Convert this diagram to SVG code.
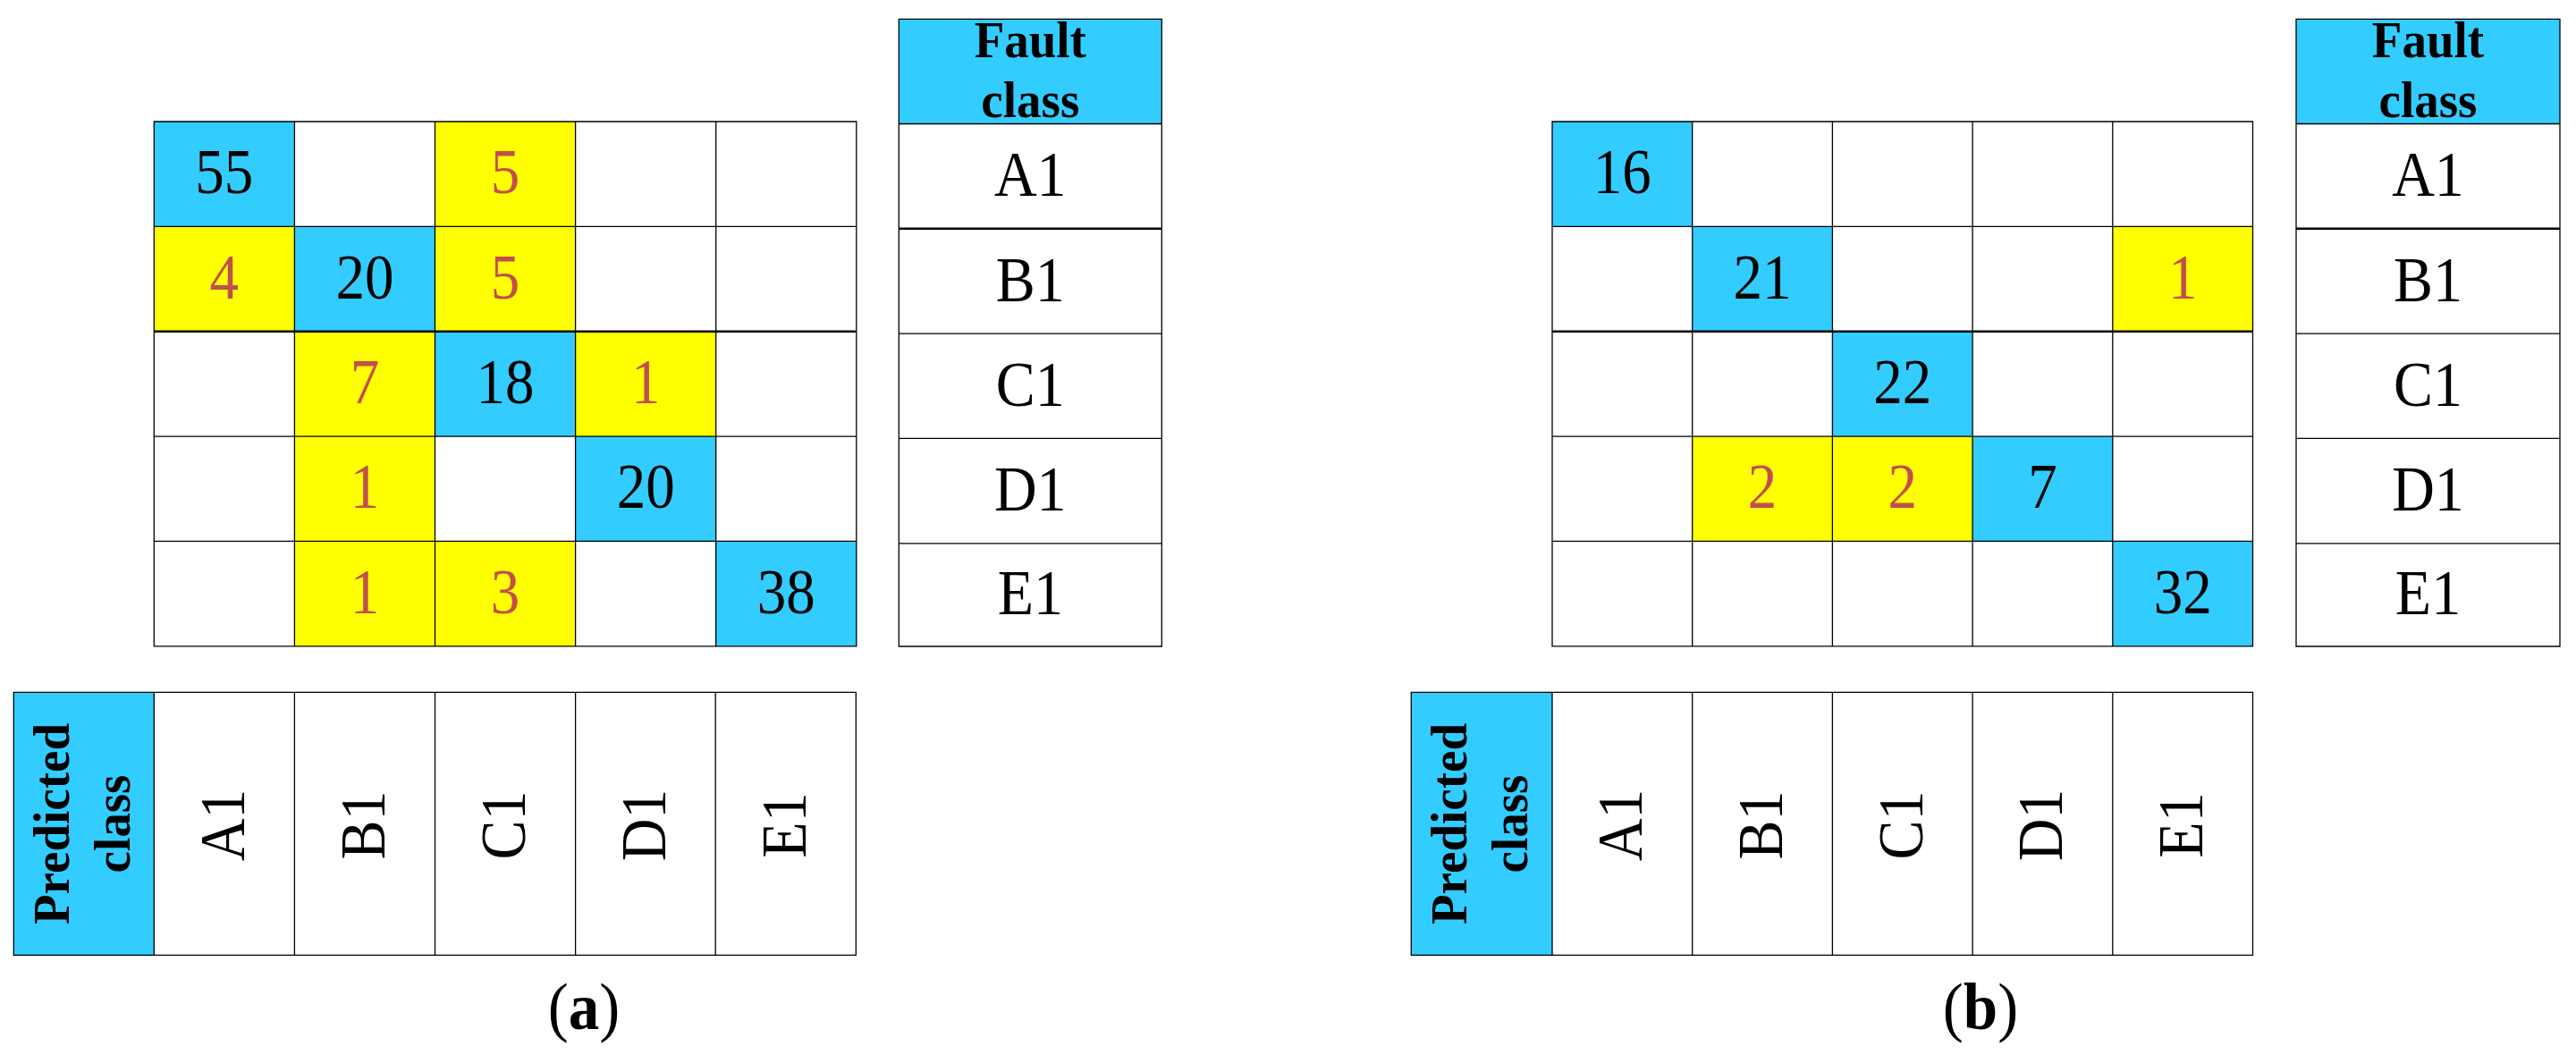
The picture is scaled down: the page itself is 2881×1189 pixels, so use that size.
<svg xmlns="http://www.w3.org/2000/svg" width="2881" height="1189" viewBox="0 0 2881 1189">
<style>
.b{fill:#33CCFF}
.y{fill:#FFFF00}
.w{fill:#FFFFFF}
.ln{stroke:#000;stroke-width:1.3;fill:none}
.tk{stroke:#000;stroke-width:2.6;fill:none}
.n{font-family:"Liberation Serif","Times New Roman",serif;font-size:65px;text-anchor:middle;fill:#000}
.r{fill:#C0504D}
.lb{font-family:"Liberation Serif","Times New Roman",serif;font-size:66px;text-anchor:middle;fill:#000}
.hd{font-family:"Liberation Serif","Times New Roman",serif;font-size:55px;font-weight:bold;text-anchor:middle;fill:#000}
.cap{font-family:"Liberation Serif","Times New Roman",serif;font-size:69px;text-anchor:middle;fill:#000}
</style>
<rect width="2881" height="1189" fill="#FFFFFF"/>

<!-- ===== Panel (a) ===== -->
<g id="matrix-a">
  <rect class="b" x="172.3" y="136" width="157.1" height="117.4"/>
  <rect class="y" x="486.5" y="136" width="157.1" height="117.4"/>
  <rect class="y" x="172.3" y="253.4" width="157.1" height="117.3"/>
  <rect class="b" x="329.4" y="253.4" width="157.1" height="117.3"/>
  <rect class="y" x="486.5" y="253.4" width="157.1" height="117.3"/>
  <rect class="y" x="329.4" y="370.7" width="157.1" height="117.4"/>
  <rect class="b" x="486.5" y="370.7" width="157.1" height="117.4"/>
  <rect class="y" x="643.6" y="370.7" width="157.1" height="117.4"/>
  <rect class="y" x="329.4" y="488.1" width="157.1" height="117.3"/>
  <rect class="b" x="643.6" y="488.1" width="157.1" height="117.3"/>
  <rect class="y" x="329.4" y="605.4" width="157.1" height="117.4"/>
  <rect class="y" x="486.5" y="605.4" width="157.1" height="117.4"/>
  <rect class="b" x="800.7" y="605.4" width="157.1" height="117.4"/>
  <path class="ln" d="M172.3,136H957.8V722.8H172.3Z M329.4,136V722.8 M486.5,136V722.8 M643.6,136V722.8 M800.7,136V722.8 M172.3,253.4H957.8 M172.3,488.1H957.8 M172.3,605.4H957.8"/>
  <path class="tk" d="M172.3,370.7H957.8"/>
  <g class="n">
    <text transform="translate(250.85,216.2) scale(1,1.09)">55</text>
    <text class="r" transform="translate(565.05,216.2) scale(1,1.09)">5</text>
    <text class="r" transform="translate(250.85,333.6) scale(1,1.09)">4</text>
    <text transform="translate(407.95,333.6) scale(1,1.09)">20</text>
    <text class="r" transform="translate(565.05,333.6) scale(1,1.09)">5</text>
    <text class="r" transform="translate(407.95,450.9) scale(1,1.09)">7</text>
    <text transform="translate(565.05,450.9) scale(1,1.09)">18</text>
    <text class="r" transform="translate(722.15,450.9) scale(1,1.09)">1</text>
    <text class="r" transform="translate(407.95,568.3) scale(1,1.09)">1</text>
    <text transform="translate(722.15,568.3) scale(1,1.09)">20</text>
    <text class="r" transform="translate(407.95,685.6) scale(1,1.09)">1</text>
    <text class="r" transform="translate(565.05,685.6) scale(1,1.09)">3</text>
    <text transform="translate(879.25,685.6) scale(1,1.09)">38</text>
  </g>
</g>

<g id="fault-class-a">
  <rect class="b" x="1005.3" y="21.3" width="294" height="117.2"/>
  <path class="ln" d="M1005.3,21.3H1299.3V723H1005.3Z M1005.3,138.5H1299.3 M1005.3,373.1H1299.3 M1005.3,490.4H1299.3 M1005.3,607.9H1299.3"/>
  <path class="tk" d="M1005.3,255.8H1299.3"/>
  <text class="hd" transform="translate(1152.3,64) scale(1,1.04)">Fault</text>
  <text class="hd" transform="translate(1152.3,130.7) scale(1,1.04)">class</text>
  <text class="lb" transform="translate(1152.3,219.2) scale(1,1.1)">A1</text>
  <text class="lb" transform="translate(1152.3,336.5) scale(1,1.1)">B1</text>
  <text class="lb" transform="translate(1152.3,453.8) scale(1,1.1)">C1</text>
  <text class="lb" transform="translate(1152.3,571) scale(1,1.1)">D1</text>
  <text class="lb" transform="translate(1152.3,687.4) scale(1,1.1)">E1</text>
</g>

<g id="predicted-class-a">
  <rect class="b" x="15.3" y="774.3" width="157" height="294"/>
  <path class="ln" d="M15.3,774.3H957.3V1068.3H15.3Z M172.3,774.3V1068.3 M329.4,774.3V1068.3 M486.5,774.3V1068.3 M643.6,774.3V1068.3 M800.2,774.3V1068.3"/>
  <text class="hd" transform="translate(77.3,921.5) rotate(-90) scale(1,1.04)">Predicted</text>
  <text class="hd" transform="translate(145,921.5) rotate(-90) scale(1,1.04)">class</text>
  <text class="lb" transform="translate(272.8,923) rotate(-90) scale(1,1.1)">A1</text>
  <text class="lb" transform="translate(429.9,923) rotate(-90) scale(1,1.1)">B1</text>
  <text class="lb" transform="translate(587,923) rotate(-90) scale(1,1.1)">C1</text>
  <text class="lb" transform="translate(744.1,923) rotate(-90) scale(1,1.1)">D1</text>
  <text class="lb" transform="translate(901,923) rotate(-90) scale(1,1.1)">E1</text>
</g>

<g id="caption-a">
  <text class="cap" transform="translate(653,1151) scale(1,1.08)">(<tspan font-weight="bold">a</tspan>)</text>
</g>

<!-- ===== Panel (b) ===== -->
<g id="matrix-b">
  <rect class="b" x="1736" y="136" width="156.7" height="117.4"/>
  <rect class="b" x="1892.7" y="253.4" width="156.7" height="117.3"/>
  <rect class="y" x="2362.8" y="253.4" width="156.7" height="117.3"/>
  <rect class="b" x="2049.4" y="370.7" width="156.7" height="117.4"/>
  <rect class="y" x="1892.7" y="488.1" width="156.7" height="117.3"/>
  <rect class="y" x="2049.4" y="488.1" width="156.7" height="117.3"/>
  <rect class="b" x="2206.1" y="488.1" width="156.7" height="117.3"/>
  <rect class="b" x="2362.8" y="605.4" width="156.7" height="117.4"/>
  <path class="ln" d="M1736,136H2519.5V722.8H1736Z M1892.7,136V722.8 M2049.4,136V722.8 M2206.1,136V722.8 M2362.8,136V722.8 M1736,253.4H2519.5 M1736,488.1H2519.5 M1736,605.4H2519.5"/>
  <path class="tk" d="M1736,370.7H2519.5"/>
  <g class="n">
    <text transform="translate(1814.35,216.2) scale(1,1.09)">16</text>
    <text transform="translate(1971.05,333.6) scale(1,1.09)">21</text>
    <text class="r" transform="translate(2441.15,333.6) scale(1,1.09)">1</text>
    <text transform="translate(2127.75,450.9) scale(1,1.09)">22</text>
    <text class="r" transform="translate(1971.05,568.3) scale(1,1.09)">2</text>
    <text class="r" transform="translate(2127.75,568.3) scale(1,1.09)">2</text>
    <text transform="translate(2284.45,568.3) scale(1,1.09)">7</text>
    <text transform="translate(2441.15,685.6) scale(1,1.09)">32</text>
  </g>
</g>

<g id="fault-class-b">
  <rect class="b" x="2568" y="21.3" width="295" height="117.2"/>
  <path class="ln" d="M2568,21.3H2863V723H2568Z M2568,138.5H2863 M2568,373.1H2863 M2568,490.4H2863 M2568,607.9H2863"/>
  <path class="tk" d="M2568,255.8H2863"/>
  <text class="hd" transform="translate(2715.5,64) scale(1,1.04)">Fault</text>
  <text class="hd" transform="translate(2715.5,130.7) scale(1,1.04)">class</text>
  <text class="lb" transform="translate(2715.5,219.2) scale(1,1.1)">A1</text>
  <text class="lb" transform="translate(2715.5,336.5) scale(1,1.1)">B1</text>
  <text class="lb" transform="translate(2715.5,453.8) scale(1,1.1)">C1</text>
  <text class="lb" transform="translate(2715.5,571) scale(1,1.1)">D1</text>
  <text class="lb" transform="translate(2715.5,687.4) scale(1,1.1)">E1</text>
</g>

<g id="predicted-class-b">
  <rect class="b" x="1578.3" y="774.3" width="157.7" height="294"/>
  <path class="ln" d="M1578.3,774.3H2519.5V1068.3H1578.3Z M1736,774.3V1068.3 M1892.7,774.3V1068.3 M2049.4,774.3V1068.3 M2206.1,774.3V1068.3 M2362.8,774.3V1068.3"/>
  <text class="hd" transform="translate(1640.3,921.5) rotate(-90) scale(1,1.04)">Predicted</text>
  <text class="hd" transform="translate(1708,921.5) rotate(-90) scale(1,1.04)">class</text>
  <text class="lb" transform="translate(1836.35,923) rotate(-90) scale(1,1.1)">A1</text>
  <text class="lb" transform="translate(1993.05,923) rotate(-90) scale(1,1.1)">B1</text>
  <text class="lb" transform="translate(2149.75,923) rotate(-90) scale(1,1.1)">C1</text>
  <text class="lb" transform="translate(2306.45,923) rotate(-90) scale(1,1.1)">D1</text>
  <text class="lb" transform="translate(2463.15,923) rotate(-90) scale(1,1.1)">E1</text>
</g>

<g id="caption-b">
  <text class="cap" transform="translate(2215,1151) scale(1,1.08)">(<tspan font-weight="bold">b</tspan>)</text>
</g>

<g id="connectors"></g>
</svg>
